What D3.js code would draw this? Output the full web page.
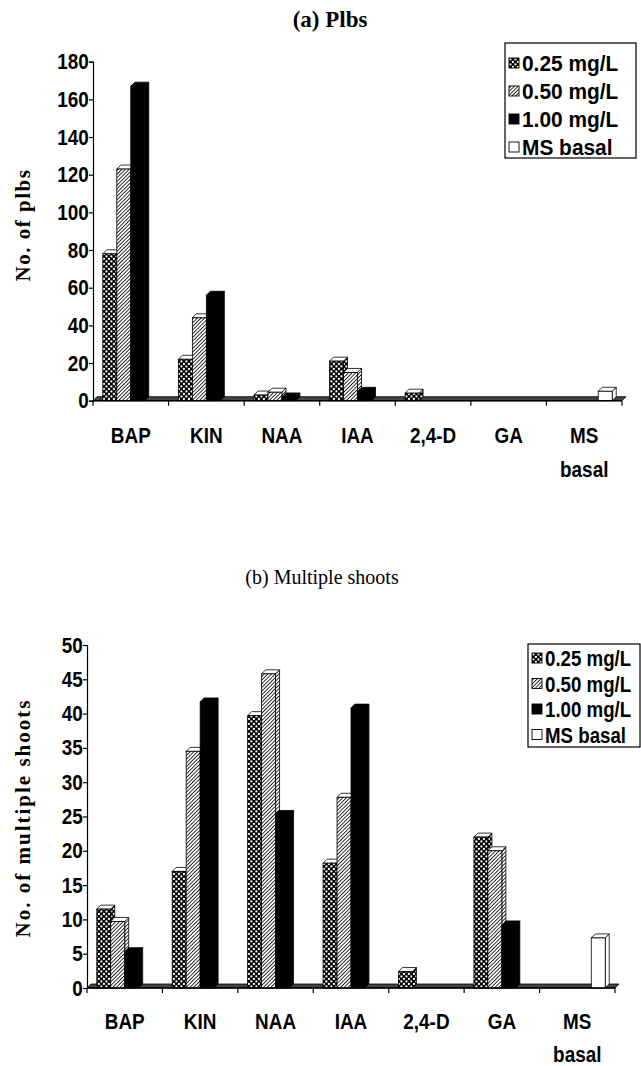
<!DOCTYPE html>
<html>
<head>
<meta charset="utf-8">
<script src="https://cdn.jsdelivr.net/npm/d3@7"></script>
<style>
  body { margin: 0; background: #fff; }
</style>
</head>
<body>
<div id="chart"></div>
<script>
// Plbs and multiple shoots per growth regulator, three concentrations + MS basal control

const categories  = ["BAP", "KIN", "NAA", "IAA", "2,4-D", "GA", "MS basal"];
const seriesNames = ["0.25 mg/L", "0.50 mg/L", "1.00 mg/L", "MS basal"];

// (a) number of plbs
const plbs025 = [78, 22, 3, 21, 4, 0, null];
const plbs050 = [123, 44, 4.5, 15, 0, 0, null];
const plbs100 = [167, 56, 2, 5, 0, 0, null];
const plbsMS  = [null, null, null, null, null, null, 5];
const plbsTicks = [0, 20, 40, 60, 80, 100, 120, 140, 160, 180];

// (b) number of multiple shoots
const shoots025 = [11.5, 17, 39.7, 18.2, 2.4, 22, null];
const shoots050 = [9.7, 34.5, 45.8, 27.8, 0, 20, null];
const shoots100 = [5.3, 41.7, 25.3, 40.8, 0, 9.2, null];
const shootsMS  = [null, null, null, null, null, null, 7.3];
const shootTicks = [0, 5, 10, 15, 20, 25, 30, 35, 40, 45, 50];

const width = 641, height = 1066;
const AXIS_FONT = "'Liberation Sans', Arial, sans-serif";
const SERIF = "'Liberation Serif', 'Times New Roman', serif";
const SQUEEZE = 0.86;   // the scan's labels look condensed
const DX = 4, DY = 4;   // fake 3D depth

const svg = d3.select("#chart")
  .append("svg")
  .attr("width", width)
  .attr("height", height);

// fill patterns
const defs = svg.append("defs");

const chk = defs.append("pattern")
  .attr("id", "pat-chk")
  .attr("patternUnits", "userSpaceOnUse")
  .attr("width", 5).attr("height", 5);
chk.append("rect").attr("width", 5).attr("height", 5).attr("fill", "#000");
chk.append("rect").attr("x", 0.4).attr("y", 0.4).attr("width", 2).attr("height", 2).attr("fill", "#fff");
chk.append("rect").attr("x", 2.9).attr("y", 2.9).attr("width", 2).attr("height", 2).attr("fill", "#fff");

const hatch = defs.append("pattern")
  .attr("id", "pat-hatch")
  .attr("patternUnits", "userSpaceOnUse")
  .attr("width", 2.6).attr("height", 2.6)
  .attr("patternTransform", "rotate(45)");
hatch.append("rect").attr("width", 2.6).attr("height", 2.6).attr("fill", "#fff");
hatch.append("rect").attr("width", 0.8).attr("height", 2.6).attr("fill", "#000");

const fills = ["url(#pat-chk)", "url(#pat-hatch)", "#000", "#fff"];

function drawPanel(p) {
  const g = svg.append("g");

  const x0 = d3.scaleBand()
    .domain(categories)
    .range([p.left, p.right])
    .padding(0);

  const x1 = d3.scaleBand()
    .domain(seriesNames)
    .range([0, x0.bandwidth()])
    .paddingInner(0)
    .paddingOuter(0.7);

  const y = d3.scaleLinear()
    .domain([0, p.max])
    .range([p.bottom, p.top]);

  const y0 = y(0);

  // floor plate
  g.append("polygon")
    .attr("points", [
      [p.left, y0], [p.right, y0],
      [p.right + DX, y0 - DY], [p.left + DX, y0 - DY]
    ].map(d => d.join(",")).join(" "))
    .attr("fill", "#444")
    .attr("stroke", "#000")
    .attr("stroke-width", 0.8);

  // bars
  const rows = [];
  categories.forEach((c, ci) => {
    p.series.forEach((vals, si) => {
      const v = vals[ci];
      if (v == null || v <= 0) return;
      rows.push({ cat: c, s: seriesNames[si], si: si, v: v });
    });
  });

  const bars = g.selectAll(".bar")
    .data(rows)
    .join("g")
    .attr("class", "bar");

  const bx = d => x0(d.cat) + x1(d.s);
  const bw = x1.bandwidth();

  bars.append("polygon")
    .attr("points", d => {
      const x = bx(d), t = y(d.v);
      return [[x + bw, t], [x + bw + DX, t - DY], [x + bw + DX, y0 - DY], [x + bw, y0]]
        .map(q => q.join(",")).join(" ");
    })
    .attr("fill", d => fills[d.si])
    .attr("stroke", "#000")
    .attr("stroke-width", 0.8);

  bars.append("polygon")
    .attr("points", d => {
      const x = bx(d), t = y(d.v);
      return [[x, t], [x + DX, t - DY], [x + bw + DX, t - DY], [x + bw, t]]
        .map(q => q.join(",")).join(" ");
    })
    .attr("fill", d => d.si === 2 ? "#000" : "#fff")
    .attr("stroke", "#000")
    .attr("stroke-width", 0.8);

  bars.append("rect")
    .attr("x", bx)
    .attr("y", d => y(d.v))
    .attr("width", bw)
    .attr("height", d => y0 - y(d.v))
    .attr("fill", d => fills[d.si])
    .attr("stroke", "#000")
    .attr("stroke-width", 0.8);

  // y axis
  const yAxis = g.append("g")
    .attr("transform", `translate(${p.left}, 0)`)
    .call(d3.axisLeft(y).tickValues(p.ticks).tickSize(4).tickPadding(1));
  yAxis.select(".domain").attr("stroke", "#000").attr("stroke-width", 1.2);
  yAxis.selectAll("line").attr("stroke", "#000").attr("stroke-width", 1.2);
  yAxis.selectAll("text")
    .attr("transform", `scale(${SQUEEZE},1)`)
    .style("font-family", AXIS_FONT)
    .style("font-size", "22px")
    .style("font-weight", "bold")
    .attr("fill", "#000");

  // x axis line + ticks at category edges
  g.append("line")
    .attr("x1", p.left).attr("x2", p.right)
    .attr("y1", y0).attr("y2", y0)
    .attr("stroke", "#000")
    .attr("stroke-width", 1.4);

  g.selectAll(".xtick")
    .data(categories.concat([null]))
    .join("line")
    .attr("class", "xtick")
    .attr("x1", d => d ? x0(d) : p.right)
    .attr("x2", d => d ? x0(d) : p.right)
    .attr("y1", y0)
    .attr("y2", y0 + 5)
    .attr("stroke", "#000")
    .attr("stroke-width", 1.2);

  // category labels ("MS basal" wraps onto two lines)
  const lab = g.selectAll(".xlab")
    .data(categories)
    .join("g")
    .attr("class", "xlab")
    .attr("transform", d => `translate(${x0(d) + x0.bandwidth() / 2}, ${y0 + p.labelDy}) scale(${SQUEEZE},1)`)
    .append("text")
    .attr("text-anchor", "middle")
    .style("font-family", AXIS_FONT)
    .style("font-size", "22px")
    .style("font-weight", "bold");
  lab.each(function (d) {
    const t = d3.select(this);
    d.split(" ").forEach((w, i) => {
      t.append("tspan")
        .attr("x", 0)
        .attr("dy", i === 0 ? 0 : p.lineGap)
        .text(w);
    });
  });

  // titles
  svg.append("text")
    .attr("x", p.titleX)
    .attr("y", p.titleY)
    .attr("text-anchor", "middle")
    .style("font-family", SERIF)
    .style("font-size", p.titleSize)
    .style("font-weight", p.titleWeight)
    .text(p.title);

  svg.append("text")
    .attr("transform", `translate(${p.ylabX}, ${p.ylabY}) rotate(-90)`)
    .attr("text-anchor", "middle")
    .style("font-family", SERIF)
    .style("font-size", "21px")
    .style("font-weight", "bold")
    .style("letter-spacing", p.ylabSpacing)
    .text(p.ylabel);

  // legend
  const lg = svg.append("g")
    .attr("transform", `translate(${p.legX}, ${p.legY})`);

  lg.append("rect")
    .attr("width", p.legW)
    .attr("height", p.legH)
    .attr("fill", "#fff")
    .attr("stroke", "#000")
    .attr("stroke-width", 1.2);

  seriesNames.forEach((name, i) => {
    const row = lg.append("g")
      .attr("transform", `translate(4, ${p.legRow0 + i * p.legStep})`);
    row.append("rect")
      .attr("x", 0).attr("y", -5)
      .attr("width", 10).attr("height", 10)
      .attr("fill", fills[i])
      .attr("stroke", "#000")
      .attr("stroke-width", 0.9);
    row.append("text")
      .attr("transform", `translate(13, 8) scale(${p.legSqueeze},1)`)
      .style("font-family", AXIS_FONT)
      .style("font-size", "22px")
      .style("font-weight", "bold")
      .text(name);
  });
}

drawPanel({
  left: 93, right: 622, top: 61.7, bottom: 400.7, max: 180,
  ticks: plbsTicks,
  series: [plbs025, plbs050, plbs100, plbsMS],
  labelDy: 42, lineGap: 34,
  title: "(a) Plbs", titleX: 330, titleY: 27, titleSize: "23px", titleWeight: "bold",
  ylabel: "No. of plbs", ylabX: 30, ylabY: 225, ylabSpacing: "1.5px",
  legX: 505, legY: 43, legW: 131, legH: 115, legRow0: 20, legStep: 28, legSqueeze: 0.95
});

drawPanel({
  left: 87, right: 615, top: 645, bottom: 988, max: 50,
  ticks: shootTicks,
  series: [shoots025, shoots050, shoots100, shootsMS],
  labelDy: 41, lineGap: 33,
  title: "(b) Multiple shoots", titleX: 322, titleY: 584, titleSize: "20px", titleWeight: "normal",
  ylabel: "No. of multiple shoots", ylabX: 30, ylabY: 818, ylabSpacing: "2px",
  legX: 528, legY: 644, legW: 112, legH: 103, legRow0: 14, legStep: 25.5, legSqueeze: 0.85
});
</script>
</body>
</html>
